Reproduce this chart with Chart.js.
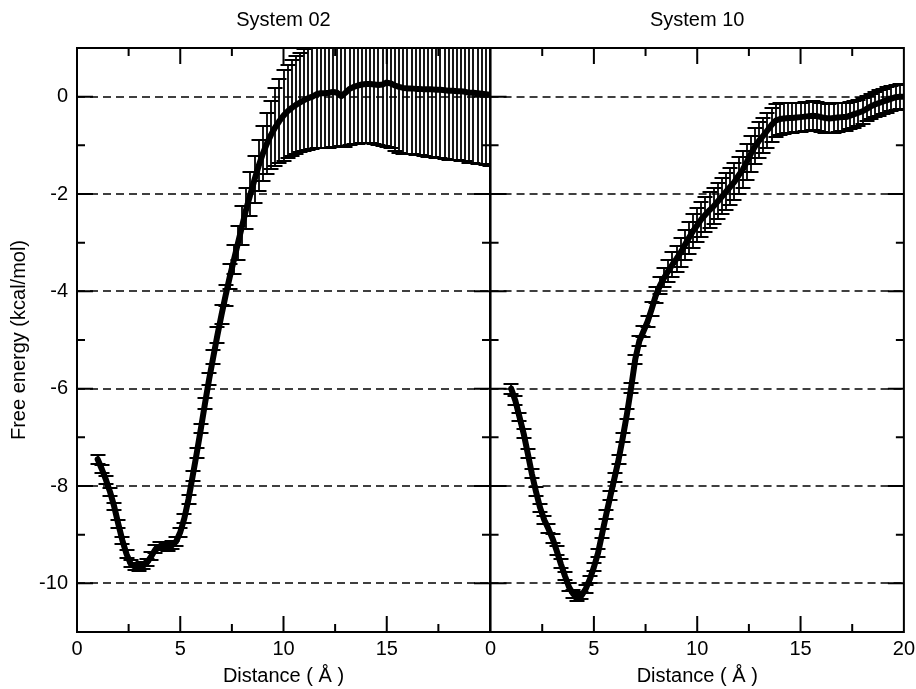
<!DOCTYPE html>
<html>
<head>
<meta charset="utf-8">
<script src="https://cdn.jsdelivr.net/npm/chart.js@4/dist/chart.umd.min.js"></script>
<style>
  html, body { margin: 0; padding: 0; background: #fff; }
  #wrap { position: relative; width: 916px; height: 689px; overflow: hidden; }
  #leftChart { position: absolute; left: 0; top: 0; }
  #rightChart { position: absolute; left: 480px; top: 0; }
</style>
</head>
<body>
<div id="wrap">
  <canvas id="leftChart" width="496" height="689"></canvas>
  <canvas id="rightChart" width="440" height="689"></canvas>
</div>
<script>
// distance grid (Å)
const distance = [
  1.0, 1.2, 1.4, 1.6, 1.8, 2.0, 2.2, 2.4, 2.6, 2.8,
  3.0, 3.2, 3.4, 3.6, 3.8, 4.0, 4.2, 4.4, 4.6, 4.8,
  5.0, 5.2, 5.4, 5.6, 5.8, 6.0, 6.2, 6.4, 6.6, 6.8,
  7.0, 7.2, 7.4, 7.6, 7.8, 8.0, 8.2, 8.4, 8.6, 8.8,
  9.0, 9.2, 9.4, 9.6, 9.8, 10.0, 10.2, 10.4, 10.6, 10.8,
  11.0, 11.2, 11.4, 11.6, 11.8, 12.0, 12.2, 12.4, 12.6, 12.8,
  13.0, 13.2, 13.4, 13.6, 13.8, 14.0, 14.2, 14.4, 14.6, 14.8,
  15.0, 15.2, 15.4, 15.6, 15.8, 16.0, 16.2, 16.4, 16.6, 16.8,
  17.0, 17.2, 17.4, 17.6, 17.8, 18.0, 18.2, 18.4, 18.6, 18.8,
  19.0, 19.2, 19.4, 19.6, 19.8, 20.0
];

// System 02 free energy (kcal/mol) and error
const sys02Energy = [
  -7.45, -7.65, -7.87, -8.12, -8.42, -8.78, -9.12, -9.40, -9.60, -9.66,
  -9.67, -9.64, -9.57, -9.44, -9.30, -9.24, -9.24, -9.25, -9.22, -9.14,
  -8.95, -8.66, -8.27, -7.80, -7.32, -6.82, -6.30, -5.80, -5.35, -4.90,
  -4.48, -4.08, -3.70, -3.35, -3.00, -2.65, -2.30, -2.00, -1.70, -1.42,
  -1.17, -0.96, -0.78, -0.63, -0.50, -0.39, -0.30, -0.23, -0.17, -0.12,
  -0.07, -0.03, 0.00, 0.05, 0.07, 0.07, 0.08, 0.10, 0.08, 0.01,
  0.08, 0.16, 0.20, 0.23, 0.25, 0.26, 0.26, 0.25, 0.24, 0.25,
  0.29, 0.27, 0.23, 0.20, 0.18, 0.17, 0.17, 0.16, 0.16, 0.15,
  0.15, 0.15, 0.14, 0.14, 0.13, 0.12, 0.12, 0.11, 0.11, 0.10,
  0.08, 0.08, 0.07, 0.06, 0.05, 0.04
];
const sys02Error = [
  0.09, 0.08, 0.08, 0.08, 0.08, 0.08, 0.08, 0.08, 0.07, 0.07,
  0.07, 0.07, 0.08, 0.08, 0.08, 0.08, 0.08, 0.08, 0.08, 0.09,
  0.09, 0.09, 0.09, 0.10, 0.10, 0.10, 0.11, 0.12, 0.14, 0.16,
  0.19, 0.22, 0.26, 0.30, 0.35, 0.40, 0.42, 0.45, 0.49, 0.52,
  0.56, 0.62, 0.70, 0.80, 0.87, 0.93, 0.96, 0.98, 1.00, 1.02,
  1.04, 1.06, 1.08, 1.10, 1.12, 1.13, 1.13, 1.13, 1.12, 1.03,
  1.12, 1.16, 1.18, 1.20, 1.21, 1.22, 1.22, 1.23, 1.24, 1.26,
  1.33, 1.33, 1.35, 1.35, 1.35, 1.34, 1.35, 1.35, 1.36, 1.37,
  1.38, 1.38, 1.39, 1.40, 1.41, 1.42, 1.42, 1.42, 1.43, 1.43,
  1.44, 1.44, 1.45, 1.45, 1.46, 1.46
];

// System 10 free energy (kcal/mol) and error
const sys10Energy = [
  -6.00, -6.25, -6.58, -6.92, -7.33, -7.75, -8.12, -8.45, -8.70, -8.88,
  -9.08, -9.33, -9.60, -9.85, -10.08, -10.22, -10.28, -10.25, -10.12, -9.92,
  -9.67, -9.38, -8.98, -8.58, -8.20, -7.83, -7.45, -7.00, -6.52, -5.98,
  -5.40, -5.02, -4.82, -4.62, -4.36, -4.08, -3.88, -3.72, -3.58, -3.45,
  -3.33, -3.20, -3.05, -2.90, -2.76, -2.64, -2.52, -2.42, -2.33, -2.25,
  -2.15, -2.05, -1.95, -1.85, -1.75, -1.62, -1.50, -1.34, -1.17, -1.02,
  -0.90, -0.80, -0.69, -0.58, -0.49, -0.46, -0.45, -0.44, -0.44, -0.43,
  -0.42, -0.41, -0.40, -0.39, -0.40, -0.42, -0.44, -0.45, -0.44, -0.43,
  -0.42, -0.42, -0.39, -0.36, -0.33, -0.30, -0.25, -0.20, -0.16, -0.13,
  -0.10, -0.07, -0.04, -0.01, 0.00, 0.00
];
const sys10Error = [
  0.10, 0.09, 0.09, 0.09, 0.09, 0.09, 0.09, 0.09, 0.09, 0.09,
  0.09, 0.09, 0.09, 0.08, 0.08, 0.08, 0.08, 0.08, 0.08, 0.08,
  0.08, 0.08, 0.09, 0.09, 0.09, 0.09, 0.09, 0.09, 0.10, 0.10,
  0.10, 0.10, 0.11, 0.12, 0.14, 0.16, 0.18, 0.20, 0.22, 0.25,
  0.27, 0.29, 0.31, 0.33, 0.34, 0.35, 0.36, 0.36, 0.37, 0.37,
  0.37, 0.37, 0.38, 0.38, 0.38, 0.38, 0.38, 0.37, 0.37, 0.37,
  0.37, 0.36, 0.36, 0.35, 0.34, 0.32, 0.31, 0.31, 0.30, 0.30,
  0.30, 0.30, 0.30, 0.30, 0.30, 0.30, 0.30, 0.30, 0.30, 0.30,
  0.29, 0.29, 0.28, 0.28, 0.27, 0.27, 0.26, 0.26, 0.26, 0.26,
  0.26, 0.26, 0.26, 0.26, 0.26, 0.26
];

const dashedLevels = [-10, -8, -6, -4, -2, 0];
const xMin = 0, xMax = 20, yMin = -11, yMax = 1;

Chart.defaults.color = '#000';
Chart.defaults.font.family = '"Liberation Sans", Arial, Helvetica, sans-serif';
Chart.defaults.font.size = 20;

// gnuplot-like frame, inward ticks, dashed levels and error bars
const gnuStyle = {
  id: 'gnuStyle',
  beforeDatasetsDraw(chart){
    const {ctx, chartArea: a, scales: {x, y}} = chart;
    ctx.save();
    ctx.strokeStyle = '#000';
    ctx.lineWidth = 1.5;
    ctx.setLineDash([8, 5]);
    dashedLevels.forEach(v => {
      const py = Math.round(y.getPixelForValue(v));
      ctx.beginPath();
      ctx.moveTo(a.left, py);
      ctx.lineTo(a.right, py);
      ctx.stroke();
    });
    ctx.restore();

    ctx.save();
    ctx.beginPath();
    ctx.rect(a.left, a.top, a.right - a.left, a.bottom - a.top);
    ctx.clip();
    ctx.strokeStyle = '#000';
    ctx.lineWidth = 1.8;
    const cap = 7.5;
    chart.data.datasets.forEach(ds => {
      const err = ds.errors;
      if(!err) return;
      ds.data.forEach((p, i) => {
        const px = Math.round(x.getPixelForValue(p.x));
        const hi = Math.round(y.getPixelForValue(p.y + err[i]));
        const lo = Math.round(y.getPixelForValue(p.y - err[i]));
        ctx.beginPath();
        ctx.moveTo(px, hi); ctx.lineTo(px, lo);
        ctx.moveTo(px - cap, hi); ctx.lineTo(px + cap, hi);
        ctx.moveTo(px - cap, lo); ctx.lineTo(px + cap, lo);
        ctx.stroke();
      });
    });
    ctx.restore();
  },
  afterDatasetsDraw(chart){
    const {ctx, chartArea: a, scales: {x, y}} = chart;
    ctx.save();
    ctx.strokeStyle = '#000';
    ctx.lineWidth = 2;
    ctx.beginPath();
    x.ticks.forEach(t => {
      if(t.value <= xMin || t.value >= xMax) return;
      const len = t.value % 5 === 0 ? 16 : 8;
      const px = x.getPixelForValue(t.value);
      ctx.moveTo(px, a.bottom); ctx.lineTo(px, a.bottom - len);
      ctx.moveTo(px, a.top); ctx.lineTo(px, a.top + len);
    });
    y.ticks.forEach(t => {
      if(t.value <= yMin || t.value >= yMax) return;
      const len = t.value % 2 === 0 ? 16 : 8;
      const py = y.getPixelForValue(t.value);
      ctx.moveTo(a.left, py); ctx.lineTo(a.left + len, py);
      ctx.moveTo(a.right, py); ctx.lineTo(a.right - len, py);
    });
    ctx.stroke();
    ctx.strokeRect(a.left, a.top, a.right - a.left, a.bottom - a.top);
    ctx.restore();
  }
};

function makePanel(canvasId, title, energy, errors, isLeft){
  const points = distance.map((d, i) => ({x: d, y: energy[i]}));
  return new Chart(document.getElementById(canvasId), {
    type: 'line',
    data: {
      datasets: [{
        data: points,
        errors: errors,
        borderColor: '#000',
        borderWidth: 6,
        pointRadius: 0,
        tension: 0,
        borderJoinStyle: 'round',
        borderCapStyle: 'round'
      }]
    },
    options: {
      responsive: false,
      animation: false,
      layout: { padding: isLeft ? {left: 0, right: 6, top: 0, bottom: 0} : {left: 10, right: 12, top: 0, bottom: 0} },
      plugins: {
        legend: { display: false },
        tooltip: { enabled: false },
        title: {
          display: true,
          text: title,
          fullSize: false,
          font: { size: 20, weight: 'normal', lineHeight: 1.2 },
          padding: { top: 8, bottom: 16 }
        }
      },
      scales: {
        x: {
          type: 'linear',
          min: xMin, max: xMax,
          grid: { display: false, drawTicks: false },
          border: { display: false },
          ticks: {
            stepSize: 2.5,
            autoSkip: false,
            maxRotation: 0,
            padding: 5,
            callback: v => (v % 5 === 0 && !(isLeft && v === xMax)) ? String(v) : ''
          },
          title: {
            display: true,
            text: 'Distance ( Å )',
            padding: { top: 0, bottom: 1 }
          },
          afterFit: s => { s.height = 57; }
        },
        y: {
          type: 'linear',
          display: isLeft,
          min: yMin, max: yMax,
          grid: { display: false, drawTicks: false },
          border: { display: false },
          ticks: {
            stepSize: 1,
            autoSkip: false,
            padding: 9,
            callback: v => v % 2 === 0 ? String(v) : ''
          },
          title: {
            display: true,
            text: 'Free energy (kcal/mol)',
            padding: { top: 7, bottom: 0 }
          },
          afterFit: s => { s.width = isLeft ? 77 : 0; }
        }
      }
    },
    plugins: [gnuStyle]
  });
}

makePanel('leftChart', 'System 02', sys02Energy, sys02Error, true);
makePanel('rightChart', 'System 10', sys10Energy, sys10Error, false);
</script>
</body>
</html>
